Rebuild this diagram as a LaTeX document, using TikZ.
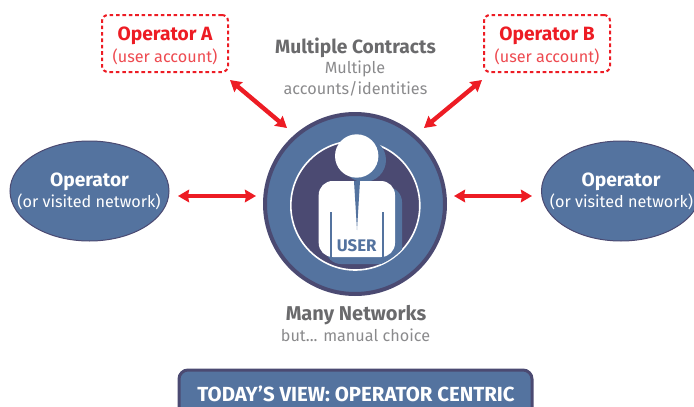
\documentclass[tikz,border=0pt]{standalone}
\usepackage{fontspec}
\setmainfont{Fira Sans}
\usetikzlibrary{arrows.meta,shapes.geometric}
\definecolor{bluefill}{HTML}{54739F}
\definecolor{darkpurple}{HTML}{4B4A72}
\definecolor{redmain}{HTML}{ED1C24}
\definecolor{redsoft}{HTML}{EE4A50}
\definecolor{graybold}{HTML}{6A6A6C}
\definecolor{graylight}{HTML}{8A8A8C}
\newcommand{\fnt}[1]{\fontsize{#1}{#1}\selectfont}
\tikzset{
  opell/.style={ellipse,draw=darkpurple,line width=1pt,fill=bluefill,minimum width=159pt,minimum height=100pt,inner sep=0pt,text=white,align=center},
  acct/.style={draw=redmain,line width=2pt,dash pattern=on 3.6pt off 2.8pt,rounded corners=6pt,minimum width=126pt,minimum height=57pt,inner sep=0pt,align=center,fill=white},
  dbl/.style={draw=redmain,line width=4.4pt,{Stealth[length=11pt,width=12.5pt,inset=1pt]}-{Stealth[length=11pt,width=12.5pt,inset=1pt]}},
  boldlab/.style={font=\fnt{19.2}\bfseries,inner sep=0pt},
  lightlab/.style={font=\fnt{16.2},inner sep=0pt},
}
\begin{document}
\begin{tikzpicture}[x=1pt,y=-1pt]
\useasboundingbox (0,0) rectangle (694,407);
\clip (0,0) rectangle (694,407);
% ellipses
\node[opell] (opL) at (89.5,191) {};
\node[opell] (opR) at (621,191) {};
\node[boldlab,text=white] (opLt) at (89.5,182) {Operator};
\node[lightlab,text=white] (opLs) at (89,201.5) {(or visited network)};
\node[boldlab,text=white] (opRt) at (621,182) {Operator};
\node[lightlab,text=white] (opRs) at (621.5,201.5) {(or visited network)};
% accounts
\node[acct] (acA) at (165,43.5) {};
\node[acct] (acB) at (547,43.5) {};
\node[boldlab,text=redmain] (acAt) at (165,36) {Operator A};
\node[lightlab,text=redsoft] (acAs) at (165,57) {(user account)};
\node[boldlab,text=redmain] (acBt) at (547,36) {Operator B};
\node[lightlab,text=redsoft] (acBs) at (547,57) {(user account)};
% user
\node[circle,draw=darkpurple,line width=4pt,fill=bluefill,minimum size=180pt,inner sep=0pt] (user) at (355,204) {};
\node[circle,draw=white,line width=1.6pt,fill=darkpurple,minimum size=129pt,inner sep=0pt] (inner) at (355.3,205.5) {};
\begin{scope}
  \clip (355.3,205.5) circle[radius=64];
  \fill[bluefill,rounded corners=15pt] (326,187) rectangle (402,264);
\end{scope}
\fill[bluefill] (364,160) circle[radius=22];
\fill[white,rounded corners=14pt] (318.7,181) rectangle (395,257);
\fill[white] (356.7,156) circle[radius=21.7];
\fill[bluefill] (354,181) -- (360,181) -- (357,230) -- cycle;
\draw[bluefill,line width=2pt] (331,212) -- (331,260);
\draw[bluefill,line width=2pt] (382.5,212) -- (382.5,260);
\node[font=\fnt{16.8}\bfseries,text=bluefill,inner sep=0pt] (ulab) at (356.7,246) {USER};
% labels
\node[boldlab,text=graybold] (mc) at (355.5,48) {Multiple Contracts};
\node[lightlab,text=graylight] (mc1) at (355,69) {Multiple};
\node[lightlab,text=graylight] (mc2) at (355.5,89) {accounts/identities};
\node[boldlab,font=\fnt{20}\bfseries,text=graybold] (mn) at (356,315) {Many Networks};
\node[lightlab,text=graylight] (mn1) at (355.5,335.5) {but... manual choice};
% banner
\node[draw=darkpurple,line width=3pt,fill=bluefill,rounded corners=9pt,minimum width=353pt,minimum height=60pt,inner sep=0pt] (ban) at (355.5,400) {};
\node[font=\fnt{20.4}\bfseries,text=white,inner sep=0pt] (bant) at (356,393.5) {TODAY’S VIEW: OPERATOR CENTRIC};
% arrows
\draw[dbl] ([xshift=8.5pt,yshift=-5pt]opL.east) -- ([xshift=-7pt,yshift=8pt]user.west);
\draw[dbl] ([xshift=7pt,yshift=8pt]user.east) -- ([xshift=-9pt,yshift=-5pt]opR.west);
\draw[dbl] ([xshift=1pt,yshift=-7pt]acA.south east) -- ([xshift=-68pt,yshift=76pt]user.center);
\draw[dbl] ([xshift=-1pt,yshift=-7pt]acB.south west) -- ([xshift=69pt,yshift=76pt]user.center);
\end{tikzpicture}
\end{document}
